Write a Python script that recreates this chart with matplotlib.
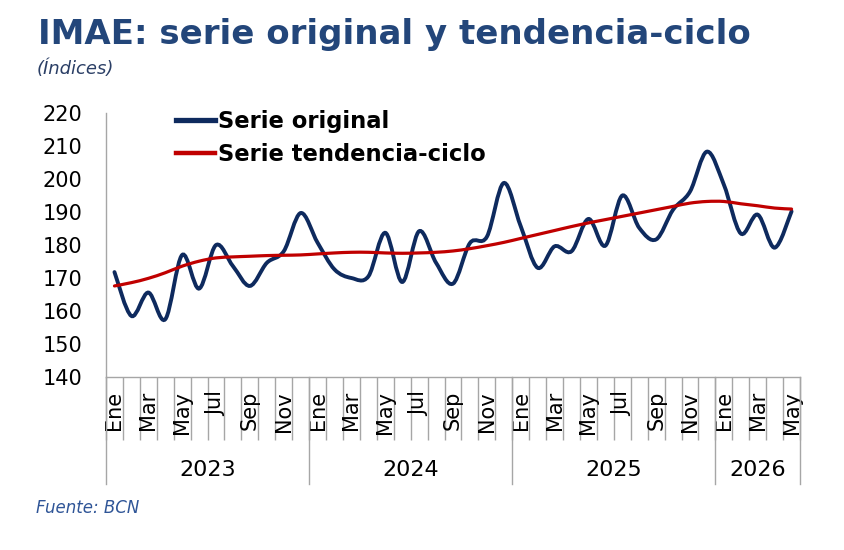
import matplotlib
matplotlib.use("Agg")
import matplotlib.pyplot as plt
import numpy as np
from matplotlib.path import Path
from matplotlib.patches import PathPatch
from matplotlib.lines import Line2D
import matplotlib.transforms as mtransforms

# --- data ---
month_names = ["Ene", "Feb", "Mar", "Abr", "May", "Jun",
               "Jul", "Ago", "Sep", "Oct", "Nov", "Dic"]
years = ["2023", "2024", "2025", "2026"]
months_per_year = [12, 12, 12, 5]

serie_original = [
    171.8, 158.5, 165.6, 157.5, 177.0, 166.8, 180.0, 173.6, 167.6, 174.6, 178.1, 189.7,
    180.7, 172.6, 170.0, 170.5, 183.7, 168.8, 184.2, 174.6, 168.3, 180.6, 182.5, 198.8,
    185.7, 173.1, 179.6, 178.1, 187.9, 179.8, 195.0, 185.2, 181.7, 190.7, 196.2, 208.3,
    198.3, 183.5, 189.2, 179.2, 190.2,
]
serie_tendencia = [
    167.6, 168.6, 169.9, 171.6, 173.6, 175.1, 176.1, 176.4, 176.6, 176.8, 176.9, 177.0,
    177.3, 177.6, 177.8, 177.8, 177.6, 177.5, 177.6, 177.8, 178.2, 178.9, 179.8, 180.8,
    182.0, 183.2, 184.4, 185.6, 186.7, 187.7, 188.7, 189.7, 190.7, 191.7, 192.7, 193.2,
    193.2, 192.5, 191.9, 191.2, 190.9,
]

BLUE = "#0e2a5e"
RED = "#c00000"
TITLE_BLUE = "#23467a"
GRID_GRAY = "#a6a6a6"


def smooth_path(xs, ys):
    """Excel-like smoothed line: Catmull-Rom segments as cubic Beziers."""
    pts = np.column_stack([xs, ys]).astype(float)
    n = len(pts)
    verts = [pts[0]]
    codes = [Path.MOVETO]
    for i in range(n - 1):
        p0 = pts[i - 1] if i > 0 else pts[i]
        p1 = pts[i]
        p2 = pts[i + 1]
        p3 = pts[i + 2] if i + 2 < n else pts[i + 1]
        c1 = p1 + (p2 - p0) / 6.0
        c2 = p2 - (p3 - p1) / 6.0
        verts += [c1, c2, p2]
        codes += [Path.CURVE4] * 3
    return Path(verts, codes)


n = len(serie_original)
x = np.arange(n)

fig = plt.figure(figsize=(8.44, 5.5), dpi=100)
ax = fig.add_axes([0.1256, 0.3145, 0.8223, 0.48])

ax.add_patch(PathPatch(smooth_path(x, serie_original), facecolor="none",
                       edgecolor=BLUE, lw=2.8, capstyle="round", zorder=3))
ax.add_patch(PathPatch(smooth_path(x, serie_tendencia), facecolor="none",
                       edgecolor=RED, lw=2.3, capstyle="round", zorder=4))

ax.set_xlim(-0.5, n - 0.5)
ax.set_ylim(140, 220)
ax.set_yticks(np.arange(140, 221, 10))
ax.tick_params(axis="y", length=0, pad=17, labelsize=15)

for s in ["top", "right"]:
    ax.spines[s].set_visible(False)
for s in ["left", "bottom"]:
    ax.spines[s].set_color(GRID_GRAY)
    ax.spines[s].set_linewidth(1.0)

# month boundaries as major ticks, labels on minor ticks
ax.set_xticks(np.arange(-0.5, n, 1.0))
ax.set_xticklabels([])
ax.tick_params(axis="x", which="major", length=45, color=GRID_GRAY, width=1.0)
labels = [month_names[i % 12] if i % 2 == 0 else "" for i in range(n)]
ax.set_xticks(x, minor=True)
ax.set_xticklabels(labels, minor=True, rotation=90, va="top", fontsize=15)
ax.tick_params(axis="x", which="minor", length=0, pad=10)

# year separators and year labels
trans = mtransforms.blended_transform_factory(ax.transData, ax.transAxes)
start = 0
bounds = [-0.5]
for yr, cnt in zip(years, months_per_year):
    ax.text(start + (cnt - 1) / 2, -0.352, yr, transform=trans, ha="center",
            va="center", fontsize=16)
    start += cnt
    bounds.append(start - 0.5)
for b in bounds:
    ax.plot([b, b], [0, -0.405], transform=trans, color=GRID_GRAY, lw=1.0,
            clip_on=False)

handles = [Line2D([], [], color=BLUE, lw=3.8), Line2D([], [], color=RED, lw=3.2)]
ax.legend(handles, ["Serie original", "Serie tendencia-ciclo"], loc="upper left",
          bbox_to_anchor=(0.072, 1.09), frameon=False, handlelength=1.7,
          handletextpad=0.13, labelspacing=0.46,
          prop={"weight": "bold", "size": 16.3})

fig.text(0.045, 0.937, "IMAE: serie original y tendencia-ciclo", color=TITLE_BLUE,
         fontsize=24.5, fontweight="bold", ha="left", va="center")
fig.text(0.043, 0.875, "(Índices)", color="#2b3f66", fontsize=13, style="italic",
         ha="left", va="center")
fig.text(0.043, 0.076, "Fuente: BCN", color="#2f5597", fontsize=12, style="italic",
         ha="left", va="center")

fig.savefig("out.png", dpi=100)
